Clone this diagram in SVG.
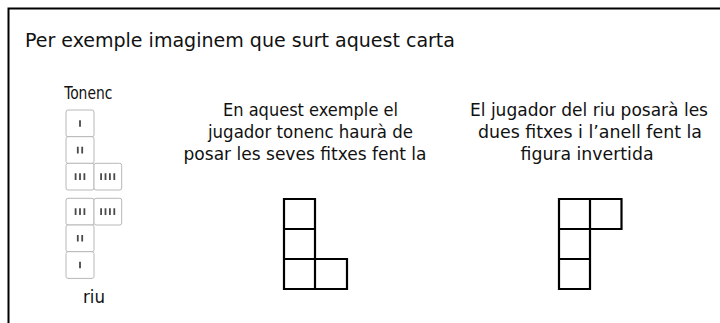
<svg xmlns="http://www.w3.org/2000/svg" width="720" height="323" viewBox="0 0 720 323">
<style>
text{font-family:"DejaVu Sans Condensed","DejaVu Sans",sans-serif;font-stretch:condensed;font-size:17.5px;fill:#111}
.c{text-anchor:middle}
.t{font-size:19px}
.cell{fill:#fff;stroke:#b8b8b8;stroke-width:1}
.mk{stroke:#4a4a4a;stroke-width:1.8}
.sq{fill:none;stroke:#000;stroke-width:2.2}
.frame{stroke:#000;stroke-width:2;fill:none}
</style>
<rect width="720" height="323" fill="#fff"/>
<path class="frame" d="M8.5 323 V8.5 H720"/>
<text class="t" x="25" y="47" textLength="430" lengthAdjust="spacingAndGlyphs">Per exemple imaginem que surt aquest carta</text>
<g id="card">
<text class="c" x="88.3" y="99.3" textLength="48" lengthAdjust="spacingAndGlyphs">Tonenc</text>
<rect class="cell" x="66" y="110" width="28" height="26.7" rx="2"/>
<rect class="cell" x="66" y="136.7" width="28" height="26.7" rx="2"/>
<rect class="cell" x="66" y="163.3" width="28" height="26.7" rx="2"/>
<rect class="cell" x="94" y="163.3" width="27.7" height="26.7" rx="2"/>
<rect class="cell" x="66" y="198.3" width="28" height="26.7" rx="2"/>
<rect class="cell" x="94" y="198.3" width="27.7" height="26.7" rx="2"/>
<rect class="cell" x="66" y="225" width="28" height="26.7" rx="2"/>
<rect class="cell" x="66" y="251.7" width="28" height="26.7" rx="2"/>
<path class="mk" d="M80 120.2v6.6 M77.8 146.8v6.6 M82.2 146.8v6.6 M75.6 173.3v6.6 M80 173.3v6.6 M84.4 173.3v6.6 M101.1 173.3v6.6 M105.5 173.3v6.6 M109.9 173.3v6.6 M114.3 173.3v6.6 M75.6 208.3v6.6 M80 208.3v6.6 M84.4 208.3v6.6 M101.1 208.3v6.6 M105.5 208.3v6.6 M109.9 208.3v6.6 M114.3 208.3v6.6 M77.8 235v6.6 M82.2 235v6.6 M80 261.7v6.6"/>
<text class="c" x="94" y="303" textLength="22" lengthAdjust="spacingAndGlyphs">riu</text>
</g>
<g id="example-tonenc">
<text class="c" x="310.5" y="116" textLength="175" lengthAdjust="spacingAndGlyphs">En aquest exemple el</text>
<text class="c" x="310.5" y="138" textLength="205" lengthAdjust="spacingAndGlyphs">jugador tonenc haurà de</text>
<text class="c" x="305" y="160" textLength="243" lengthAdjust="spacingAndGlyphs">posar les seves fitxes fent la</text>
<path class="sq" d="M284 199h31v90h-31z M284 229h31 M284 259h63v30h-32v-30"/>
</g>
<g id="example-riu">
<text class="c" x="589" y="116" textLength="238" lengthAdjust="spacingAndGlyphs">El jugador del riu posarà les</text>
<text class="c" x="590" y="138" textLength="224" lengthAdjust="spacingAndGlyphs">dues fitxes i l’anell fent la</text>
<text class="c" x="587" y="160" textLength="133" lengthAdjust="spacingAndGlyphs">figura invertida</text>
<path class="sq" d="M559 199h31v90h-31z M559 229h31 M559 259h31 M590 199h31.5v30h-31.5"/>
</g>
<g id="connectors"></g>
</svg>
